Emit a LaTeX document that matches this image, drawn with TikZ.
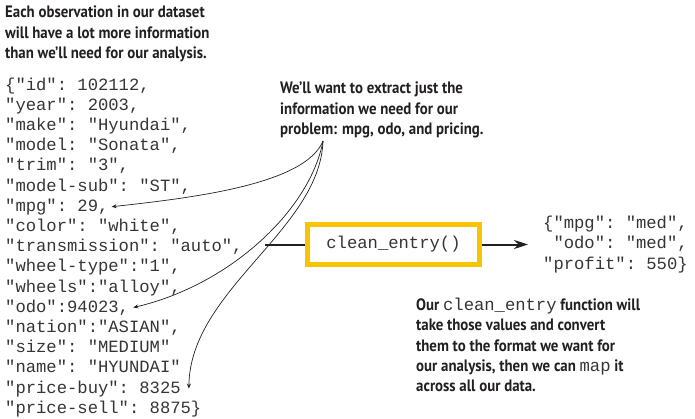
\documentclass[tikz,border=0pt]{standalone}
\usepackage{fontspec}
\setmainfont[FakeStretch=0.9]{PT Sans}
\setmonofont{Liberation Mono}
\usetikzlibrary{arrows.meta}
\definecolor{boxyellow}{RGB}{248,196,0}
\definecolor{ink}{RGB}{35,31,32}
\definecolor{codeink}{RGB}{55,52,53}
\newcommand{\codetxt}[1]{{\mdseries\ttfamily\fontsize{17.2}{20.2}\selectfont\color{codeink}#1}}

\begin{document}
\begin{tikzpicture}[x=1pt,y=-1pt]
\tikzstyle{note} = [anchor=north west,inner sep=0,align=left,text=ink,font=\bfseries\fontsize{16.5}{20.3}\selectfont]
\tikzstyle{code} = [anchor=base west,inner sep=0,text=codeink,font=\ttfamily\fontsize{17.2}{20.2}\selectfont]
\tikzstyle{pointer} = [-{Stealth[length=5pt,width=4pt]},line width=0.7pt,ink]
\tikzstyle{feed} = [line width=2pt,ink]
\def\dy{20.2}

\useasboundingbox (0,0) rectangle (695,418);

\node[note] (about) at (5,6) {Each observation in our dataset\\will have a lot more information\\than we’ll need for our analysis.};

\foreach \txt [count=\i] in {
  {\{"id": 102112,},
  {"year": 2003,},
  {"make": "Hyundai",},
  {"model: "Sonata",},
  {"trim": "3",},
  {"model-sub": "ST",},
  {"mpg": 29,},
  {"color": "white",},
  {"transmission": "auto",},
  {"wheel-type":"1",},
  {"wheels":"alloy",},
  {"odo":94023,},
  {"nation":"ASIAN",},
  {"size": "MEDIUM"},
  {"name": "HYUNDAI"},
  {"price-buy": 8325},
  {"price-sell": 8875\}}}
  \node[code] (f\i) at (5,90+\dy*\i-\dy) {\txt};

\node[note] (extract) at (280,82) {We’ll want to extract just the\\information we need for our\\problem: mpg, odo, and pricing.};
\coordinate (src) at (323,141);

\draw[pointer] (src) .. controls (305,185) and (190,198) .. ([xshift=3pt]f7.east);
\draw[pointer] (src) .. controls (310,210) and (230,285) .. ([xshift=4pt]f12.east);
\draw[pointer] (src) .. controls (320,230) and (190,290) .. ([xshift=8pt]f16.east);

\node[draw=boxyellow,line width=5pt,minimum width=172pt,minimum height=40pt,inner sep=0,text=codeink,font=\ttfamily\fontsize{17.2}{20.2}\selectfont] (clean) at (393.5,244.5) {clean\_entry()};
\coordinate (cin) at (265,244.5);
\draw[feed] (cin) -- (clean);

\node[code,anchor=west,align=left] (out) at (543,244.5) {\{"mpg": "med",\\~"odo": "med",\\"profit": 550\}};
\draw[feed,-{Stealth[length=14pt,width=9pt]},shorten >=15pt] (clean) -- (out);

\node[note] (explain) at (416,298) {Our \codetxt{clean\_entry} function will\\take those values and convert\\them to the format we want for\\our analysis, then we can \codetxt{map} it\\across all our data.};
\end{tikzpicture}
\end{document}
